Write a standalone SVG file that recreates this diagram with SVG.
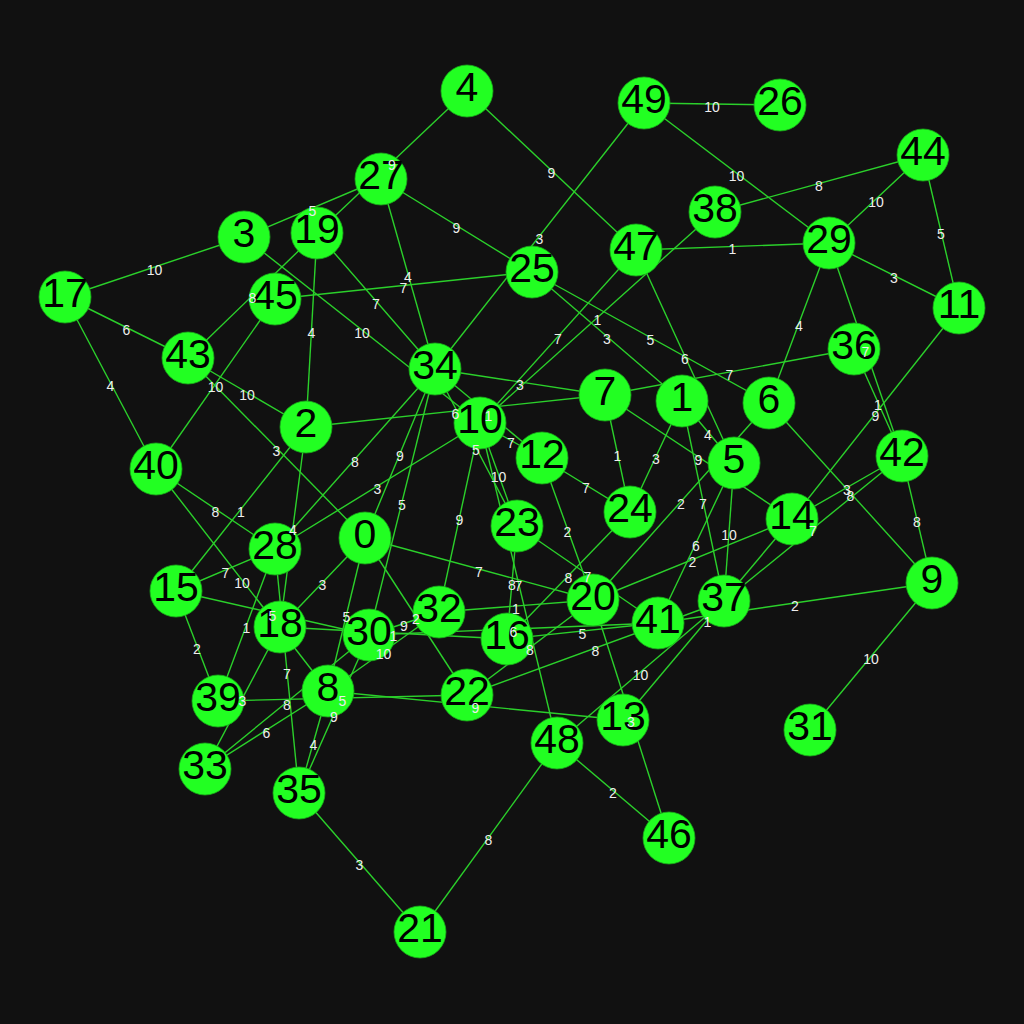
<svg xmlns="http://www.w3.org/2000/svg" width="1024" height="1024" viewBox="0 0 1024 1024">
<style>
.e{stroke:#2bd02b;stroke-width:1.4;fill:none}
.n circle{fill:#22ff22;stroke:#1aa81a;stroke-width:0.8}
.n text{font-family:"Liberation Sans",Arial,sans-serif;font-size:41px;fill:#000;text-anchor:middle}
.l{font-family:"Liberation Sans",Arial,sans-serif;font-size:14px;fill:#eeeeee;text-anchor:middle}
</style>
<rect width="1024" height="1024" fill="#111111"/>
<g id="edges">
<line class="e" x1="244" y1="237" x2="65" y2="297"/>
<line class="e" x1="244" y1="237" x2="381" y2="179"/>
<line class="e" x1="244" y1="237" x2="480" y2="423"/>
<line class="e" x1="65" y1="297" x2="188" y2="358"/>
<line class="e" x1="65" y1="297" x2="156" y2="469"/>
<line class="e" x1="317" y1="233" x2="188" y2="358"/>
<line class="e" x1="275" y1="299" x2="156" y2="469"/>
<line class="e" x1="188" y1="358" x2="306" y2="427"/>
<line class="e" x1="188" y1="358" x2="365" y2="538"/>
<line class="e" x1="275" y1="299" x2="532" y2="272"/>
<line class="e" x1="317" y1="233" x2="306" y2="427"/>
<line class="e" x1="317" y1="233" x2="435" y2="369"/>
<line class="e" x1="381" y1="179" x2="435" y2="369"/>
<line class="e" x1="467" y1="91" x2="317" y2="233"/>
<line class="e" x1="467" y1="91" x2="636" y2="250"/>
<line class="e" x1="381" y1="179" x2="532" y2="272"/>
<line class="e" x1="644" y1="103" x2="435" y2="369"/>
<line class="e" x1="532" y1="272" x2="682" y2="401"/>
<line class="e" x1="532" y1="272" x2="769" y2="403"/>
<line class="e" x1="636" y1="250" x2="480" y2="423"/>
<line class="e" x1="715" y1="212" x2="480" y2="423"/>
<line class="e" x1="435" y1="369" x2="605" y2="395"/>
<line class="e" x1="636" y1="250" x2="829" y2="243"/>
<line class="e" x1="636" y1="250" x2="734" y2="463"/>
<line class="e" x1="644" y1="103" x2="780" y2="105"/>
<line class="e" x1="644" y1="103" x2="829" y2="243"/>
<line class="e" x1="715" y1="212" x2="923" y2="155"/>
<line class="e" x1="829" y1="243" x2="923" y2="155"/>
<line class="e" x1="923" y1="155" x2="959" y2="308"/>
<line class="e" x1="829" y1="243" x2="959" y2="308"/>
<line class="e" x1="829" y1="243" x2="769" y2="403"/>
<line class="e" x1="829" y1="243" x2="902" y2="456"/>
<line class="e" x1="605" y1="395" x2="854" y2="349"/>
<line class="e" x1="959" y1="308" x2="792" y2="519"/>
<line class="e" x1="306" y1="427" x2="605" y2="395"/>
<line class="e" x1="306" y1="427" x2="280" y2="627"/>
<line class="e" x1="306" y1="427" x2="176" y2="591"/>
<line class="e" x1="156" y1="469" x2="275" y2="549"/>
<line class="e" x1="156" y1="469" x2="328" y2="691"/>
<line class="e" x1="176" y1="591" x2="275" y2="549"/>
<line class="e" x1="176" y1="591" x2="369" y2="635"/>
<line class="e" x1="275" y1="549" x2="299" y2="793"/>
<line class="e" x1="275" y1="549" x2="218" y2="701"/>
<line class="e" x1="275" y1="549" x2="435" y2="369"/>
<line class="e" x1="275" y1="549" x2="480" y2="423"/>
<line class="e" x1="365" y1="538" x2="435" y2="369"/>
<line class="e" x1="369" y1="635" x2="435" y2="369"/>
<line class="e" x1="365" y1="538" x2="280" y2="627"/>
<line class="e" x1="365" y1="538" x2="328" y2="691"/>
<line class="e" x1="365" y1="538" x2="593" y2="600"/>
<line class="e" x1="365" y1="538" x2="467" y2="695"/>
<line class="e" x1="369" y1="635" x2="439" y2="612"/>
<line class="e" x1="435" y1="369" x2="542" y2="458"/>
<line class="e" x1="480" y1="423" x2="542" y2="458"/>
<line class="e" x1="480" y1="423" x2="517" y2="526"/>
<line class="e" x1="435" y1="369" x2="517" y2="526"/>
<line class="e" x1="480" y1="423" x2="439" y2="612"/>
<line class="e" x1="517" y1="526" x2="507" y2="639"/>
<line class="e" x1="480" y1="423" x2="557" y2="743"/>
<line class="e" x1="542" y1="458" x2="630" y2="512"/>
<line class="e" x1="542" y1="458" x2="593" y2="600"/>
<line class="e" x1="605" y1="395" x2="630" y2="512"/>
<line class="e" x1="682" y1="401" x2="630" y2="512"/>
<line class="e" x1="605" y1="395" x2="792" y2="519"/>
<line class="e" x1="682" y1="401" x2="724" y2="601"/>
<line class="e" x1="682" y1="401" x2="734" y2="463"/>
<line class="e" x1="517" y1="526" x2="658" y2="623"/>
<line class="e" x1="630" y1="512" x2="507" y2="639"/>
<line class="e" x1="769" y1="403" x2="593" y2="600"/>
<line class="e" x1="593" y1="600" x2="792" y2="519"/>
<line class="e" x1="658" y1="623" x2="734" y2="463"/>
<line class="e" x1="439" y1="612" x2="593" y2="600"/>
<line class="e" x1="507" y1="639" x2="658" y2="623"/>
<line class="e" x1="854" y1="349" x2="902" y2="456"/>
<line class="e" x1="769" y1="403" x2="932" y2="583"/>
<line class="e" x1="902" y1="456" x2="792" y2="519"/>
<line class="e" x1="902" y1="456" x2="724" y2="601"/>
<line class="e" x1="792" y1="519" x2="623" y2="720"/>
<line class="e" x1="734" y1="463" x2="724" y2="601"/>
<line class="e" x1="658" y1="623" x2="932" y2="583"/>
<line class="e" x1="902" y1="456" x2="932" y2="583"/>
<line class="e" x1="932" y1="583" x2="810" y2="730"/>
<line class="e" x1="280" y1="627" x2="205" y2="769"/>
<line class="e" x1="218" y1="701" x2="467" y2="695"/>
<line class="e" x1="205" y1="769" x2="369" y2="635"/>
<line class="e" x1="205" y1="769" x2="328" y2="691"/>
<line class="e" x1="328" y1="691" x2="299" y2="793"/>
<line class="e" x1="369" y1="635" x2="299" y2="793"/>
<line class="e" x1="328" y1="691" x2="439" y2="612"/>
<line class="e" x1="280" y1="627" x2="507" y2="639"/>
<line class="e" x1="369" y1="635" x2="658" y2="623"/>
<line class="e" x1="467" y1="695" x2="724" y2="601"/>
<line class="e" x1="467" y1="695" x2="593" y2="600"/>
<line class="e" x1="328" y1="691" x2="623" y2="720"/>
<line class="e" x1="557" y1="743" x2="724" y2="601"/>
<line class="e" x1="593" y1="600" x2="669" y2="838"/>
<line class="e" x1="557" y1="743" x2="669" y2="838"/>
<line class="e" x1="557" y1="743" x2="420" y2="932"/>
<line class="e" x1="299" y1="793" x2="420" y2="932"/>
<line class="e" x1="176" y1="591" x2="218" y2="701"/>
</g>
<g id="nodes">
<g id="node-0" class="n"><circle cx="365" cy="538" r="26"/><text x="365" y="548">0</text></g>
<g id="node-1" class="n"><circle cx="682" cy="401" r="26"/><text x="682" y="411">1</text></g>
<g id="node-2" class="n"><circle cx="306" cy="427" r="26"/><text x="306" y="437">2</text></g>
<g id="node-3" class="n"><circle cx="244" cy="237" r="26"/><text x="244" y="247">3</text></g>
<g id="node-4" class="n"><circle cx="467" cy="91" r="26"/><text x="467" y="101">4</text></g>
<g id="node-5" class="n"><circle cx="734" cy="463" r="26"/><text x="734" y="473">5</text></g>
<g id="node-6" class="n"><circle cx="769" cy="403" r="26"/><text x="769" y="413">6</text></g>
<g id="node-7" class="n"><circle cx="605" cy="395" r="26"/><text x="605" y="405">7</text></g>
<g id="node-8" class="n"><circle cx="328" cy="691" r="26"/><text x="328" y="701">8</text></g>
<g id="node-9" class="n"><circle cx="932" cy="583" r="26"/><text x="932" y="593">9</text></g>
<g id="node-10" class="n"><circle cx="480" cy="423" r="26"/><text x="480" y="433">10</text></g>
<g id="node-11" class="n"><circle cx="959" cy="308" r="26"/><text x="959" y="318">11</text></g>
<g id="node-12" class="n"><circle cx="542" cy="458" r="26"/><text x="542" y="468">12</text></g>
<g id="node-13" class="n"><circle cx="623" cy="720" r="26"/><text x="623" y="730">13</text></g>
<g id="node-14" class="n"><circle cx="792" cy="519" r="26"/><text x="792" y="529">14</text></g>
<g id="node-15" class="n"><circle cx="176" cy="591" r="26"/><text x="176" y="601">15</text></g>
<g id="node-16" class="n"><circle cx="507" cy="639" r="26"/><text x="507" y="649">16</text></g>
<g id="node-17" class="n"><circle cx="65" cy="297" r="26"/><text x="65" y="307">17</text></g>
<g id="node-18" class="n"><circle cx="280" cy="627" r="26"/><text x="280" y="637">18</text></g>
<g id="node-19" class="n"><circle cx="317" cy="233" r="26"/><text x="317" y="243">19</text></g>
<g id="node-20" class="n"><circle cx="593" cy="600" r="26"/><text x="593" y="610">20</text></g>
<g id="node-21" class="n"><circle cx="420" cy="932" r="26"/><text x="420" y="942">21</text></g>
<g id="node-22" class="n"><circle cx="467" cy="695" r="26"/><text x="467" y="705">22</text></g>
<g id="node-23" class="n"><circle cx="517" cy="526" r="26"/><text x="517" y="536">23</text></g>
<g id="node-24" class="n"><circle cx="630" cy="512" r="26"/><text x="630" y="522">24</text></g>
<g id="node-25" class="n"><circle cx="532" cy="272" r="26"/><text x="532" y="282">25</text></g>
<g id="node-26" class="n"><circle cx="780" cy="105" r="26"/><text x="780" y="115">26</text></g>
<g id="node-27" class="n"><circle cx="381" cy="179" r="26"/><text x="381" y="189">27</text></g>
<g id="node-28" class="n"><circle cx="275" cy="549" r="26"/><text x="275" y="559">28</text></g>
<g id="node-29" class="n"><circle cx="829" cy="243" r="26"/><text x="829" y="253">29</text></g>
<g id="node-30" class="n"><circle cx="369" cy="635" r="26"/><text x="369" y="645">30</text></g>
<g id="node-31" class="n"><circle cx="810" cy="730" r="26"/><text x="810" y="740">31</text></g>
<g id="node-32" class="n"><circle cx="439" cy="612" r="26"/><text x="439" y="622">32</text></g>
<g id="node-33" class="n"><circle cx="205" cy="769" r="26"/><text x="205" y="779">33</text></g>
<g id="node-34" class="n"><circle cx="435" cy="369" r="26"/><text x="435" y="379">34</text></g>
<g id="node-35" class="n"><circle cx="299" cy="793" r="26"/><text x="299" y="803">35</text></g>
<g id="node-36" class="n"><circle cx="854" cy="349" r="26"/><text x="854" y="359">36</text></g>
<g id="node-37" class="n"><circle cx="724" cy="601" r="26"/><text x="724" y="611">37</text></g>
<g id="node-38" class="n"><circle cx="715" cy="212" r="26"/><text x="715" y="222">38</text></g>
<g id="node-39" class="n"><circle cx="218" cy="701" r="26"/><text x="218" y="711">39</text></g>
<g id="node-40" class="n"><circle cx="156" cy="469" r="26"/><text x="156" y="479">40</text></g>
<g id="node-41" class="n"><circle cx="658" cy="623" r="26"/><text x="658" y="633">41</text></g>
<g id="node-42" class="n"><circle cx="902" cy="456" r="26"/><text x="902" y="466">42</text></g>
<g id="node-43" class="n"><circle cx="188" cy="358" r="26"/><text x="188" y="368">43</text></g>
<g id="node-44" class="n"><circle cx="923" cy="155" r="26"/><text x="923" y="165">44</text></g>
<g id="node-45" class="n"><circle cx="275" cy="299" r="26"/><text x="275" y="309">45</text></g>
<g id="node-46" class="n"><circle cx="669" cy="838" r="26"/><text x="669" y="848">46</text></g>
<g id="node-47" class="n"><circle cx="636" cy="250" r="26"/><text x="636" y="260">47</text></g>
<g id="node-48" class="n"><circle cx="557" cy="743" r="26"/><text x="557" y="753">48</text></g>
<g id="node-49" class="n"><circle cx="644" cy="103" r="26"/><text x="644" y="113">49</text></g>
</g>
<g id="edge-labels">
<text class="l" x="154.5" y="274.5">10</text>
<text class="l" x="312.5" y="215.5">5</text>
<text class="l" x="362" y="337.5">10</text>
<text class="l" x="126.5" y="335">6</text>
<text class="l" x="110.5" y="390.5">4</text>
<text class="l" x="252.5" y="303">8</text>
<text class="l" x="215.5" y="391.5">10</text>
<text class="l" x="247" y="400">10</text>
<text class="l" x="276.5" y="455.5">3</text>
<text class="l" x="403.5" y="293">7</text>
<text class="l" x="311.5" y="337.5">4</text>
<text class="l" x="376" y="308.5">7</text>
<text class="l" x="408" y="281.5">4</text>
<text class="l" x="392" y="169.5">9</text>
<text class="l" x="551.5" y="178">9</text>
<text class="l" x="456.5" y="233">9</text>
<text class="l" x="539.5" y="243.5">3</text>
<text class="l" x="607" y="344">3</text>
<text class="l" x="650.5" y="345">5</text>
<text class="l" x="558" y="344">7</text>
<text class="l" x="597.5" y="325">1</text>
<text class="l" x="520" y="389.5">3</text>
<text class="l" x="732.5" y="254">1</text>
<text class="l" x="685" y="364">6</text>
<text class="l" x="712" y="111.5">10</text>
<text class="l" x="736.5" y="180.5">10</text>
<text class="l" x="819" y="191">8</text>
<text class="l" x="876" y="206.5">10</text>
<text class="l" x="941" y="239">5</text>
<text class="l" x="894" y="283">3</text>
<text class="l" x="799" y="330.5">4</text>
<text class="l" x="865.5" y="357">7</text>
<text class="l" x="729.5" y="379.5">7</text>
<text class="l" x="875.5" y="421">9</text>
<text class="l" x="455.5" y="418.5">6</text>
<text class="l" x="293" y="534.5">4</text>
<text class="l" x="241" y="516.5">1</text>
<text class="l" x="215.5" y="516.5">8</text>
<text class="l" x="242" y="587.5">10</text>
<text class="l" x="225.5" y="577.5">7</text>
<text class="l" x="272.5" y="620.5">5</text>
<text class="l" x="287" y="678.5">7</text>
<text class="l" x="246.5" y="632.5">1</text>
<text class="l" x="355" y="466.5">8</text>
<text class="l" x="377.5" y="493.5">3</text>
<text class="l" x="400" y="461">9</text>
<text class="l" x="402" y="509.5">5</text>
<text class="l" x="322.5" y="590">3</text>
<text class="l" x="346.5" y="622">5</text>
<text class="l" x="479" y="576.5">7</text>
<text class="l" x="416" y="624">2</text>
<text class="l" x="404" y="631">9</text>
<text class="l" x="488.5" y="421">1</text>
<text class="l" x="511" y="448">7</text>
<text class="l" x="498.5" y="482">10</text>
<text class="l" x="476" y="455">5</text>
<text class="l" x="459.5" y="525">9</text>
<text class="l" x="512" y="590">8</text>
<text class="l" x="518.5" y="590.5">7</text>
<text class="l" x="586" y="492.5">7</text>
<text class="l" x="567.5" y="536.5">2</text>
<text class="l" x="617.5" y="461">1</text>
<text class="l" x="656" y="464">3</text>
<text class="l" x="698.5" y="464.5">9</text>
<text class="l" x="703" y="508.5">7</text>
<text class="l" x="708" y="439.5">4</text>
<text class="l" x="587.5" y="582">7</text>
<text class="l" x="568.5" y="583">8</text>
<text class="l" x="681" y="509">2</text>
<text class="l" x="692.5" y="567">2</text>
<text class="l" x="696" y="550.5">6</text>
<text class="l" x="516" y="613.5">1</text>
<text class="l" x="582.5" y="638.5">5</text>
<text class="l" x="878" y="410">1</text>
<text class="l" x="850.5" y="500.5">8</text>
<text class="l" x="847" y="495">3</text>
<text class="l" x="813" y="536">7</text>
<text class="l" x="707.5" y="627">1</text>
<text class="l" x="729" y="539.5">10</text>
<text class="l" x="795" y="610.5">2</text>
<text class="l" x="917" y="527">8</text>
<text class="l" x="871" y="664">10</text>
<text class="l" x="242.5" y="705.5">3</text>
<text class="l" x="342.5" y="705.5">5</text>
<text class="l" x="287" y="709.5">8</text>
<text class="l" x="266.5" y="737.5">6</text>
<text class="l" x="313.5" y="749.5">4</text>
<text class="l" x="334" y="721.5">9</text>
<text class="l" x="383.5" y="659">10</text>
<text class="l" x="393.5" y="640.5">1</text>
<text class="l" x="513.5" y="636.5">6</text>
<text class="l" x="595.5" y="655.5">8</text>
<text class="l" x="530" y="655">8</text>
<text class="l" x="475.5" y="713">9</text>
<text class="l" x="640.5" y="679.5">10</text>
<text class="l" x="631" y="726.5">3</text>
<text class="l" x="613" y="798">2</text>
<text class="l" x="488.5" y="845">8</text>
<text class="l" x="359.5" y="870">3</text>
<text class="l" x="197" y="653.5">2</text>
</g>
</svg>
